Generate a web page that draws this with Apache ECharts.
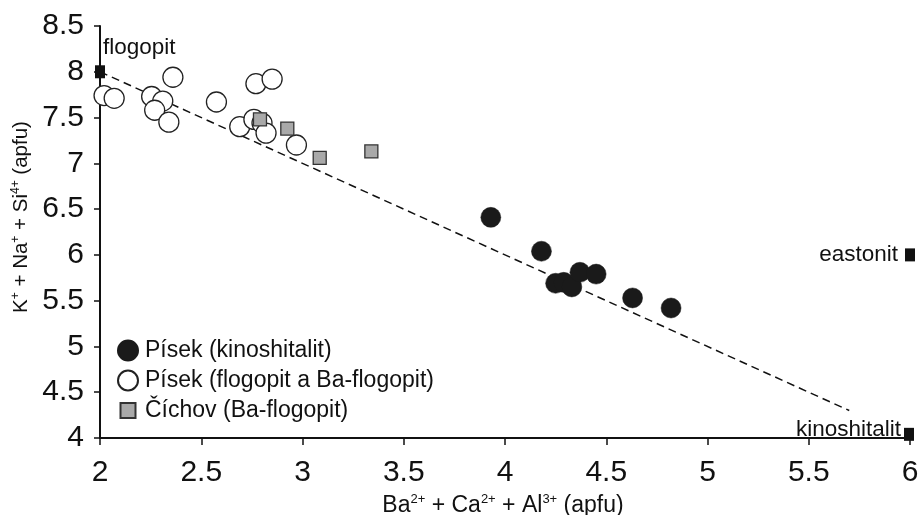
<!DOCTYPE html>
<html>
<head>
<meta charset="utf-8">
<script src="https://cdn.jsdelivr.net/npm/echarts@6/dist/echarts.min.js"></script>
<style>
html,body{margin:0;padding:0;background:#fff;}
#c{width:919px;height:515px;}
</style>
</head>
<body>
<div id="c"></div>
<script>
// ---- data ----
const kinoX = [3.93, 4.18, 4.25, 4.29, 4.33, 4.37, 4.45, 4.63, 4.82];
const kinoY = [6.41, 6.04, 5.69, 5.70, 5.65, 5.81, 5.79, 5.53, 5.42];

const flogX = [2.02, 2.07, 2.255, 2.31, 2.27, 2.34, 2.36, 2.575, 2.69, 2.76, 2.80, 2.82, 2.77, 2.85, 2.97];
const flogY = [7.74, 7.71, 7.73, 7.68, 7.58, 7.45, 7.94, 7.67, 7.40, 7.48, 7.44, 7.33, 7.87, 7.92, 7.20];

const cichX = [2.79, 2.925, 3.085, 3.34];
const cichY = [7.48, 7.38, 7.06, 7.13];

const endNames = ['flogopit', 'eastonit', 'kinoshitalit'];
const endX = [2, 6, 5.995];
const endY = [8, 6, 4.04];

const lineX = [2, 5.7];
const lineY = [8, 4.3];

const seriesNames = ['Písek (kinoshitalit)', 'Písek (flogopit a Ba-flogopit)', 'Číchov (Ba-flogopit)'];

const xMin = 2, xMax = 6, xStep = 0.5;
const yMin = 4, yMax = 8.5, yStep = 0.5;

// ---- build ----
const FONT = 'Liberation Sans, Arial, Helvetica, sans-serif';
const pair = (xs, ys) => xs.map((x, i) => [x, ys[i]]);

const endLabelStyle = {
  flogopit: { position: [8, -17], align: 'left', verticalAlign: 'middle' },
  eastonit: { position: 'left', distance: 7 },
  kinoshitalit: { position: 'left', distance: 3, offset: [0, -5] }
};

const endData = endNames.map((n, i) => ({
  name: n,
  value: [endX[i], endY[i]],
  label: Object.assign({ show: true, formatter: n, fontSize: 22.5, color: '#111', fontFamily: FONT }, endLabelStyle[n])
}));

const chart = echarts.init(document.getElementById('c'), null, { renderer: 'canvas' });

const xNameRich = {
  n: { fontSize: 23, lineHeight: 26, fontFamily: FONT, color: '#111' },
  s: { fontSize: 13, lineHeight: 13, verticalAlign: 'top', fontFamily: FONT, color: '#111' }
};
const yNameRich = {
  n: { fontSize: 20.5, lineHeight: 23, fontFamily: FONT, color: '#111' },
  s: { fontSize: 12, lineHeight: 12, verticalAlign: 'top', fontFamily: FONT, color: '#111' }
};

chart.setOption({
  animation: false,
  backgroundColor: '#fff',
  textStyle: { fontFamily: FONT },
  grid: { left: 100, right: 9, top: 26, bottom: 77, containLabel: false, outerBoundsMode: 'none' },
  legend: {
    orient: 'vertical',
    left: 117,
    top: 339,
    padding: 0,
    itemWidth: 20,
    itemHeight: 20,
    itemGap: 7,
    textStyle: { fontSize: 23, color: '#111', fontFamily: FONT, padding: [0, 0, 0, 2] },
    data: [
      { name: seriesNames[0], icon: 'circle' },
      { name: seriesNames[1], icon: 'circle' },
      { name: seriesNames[2], icon: 'path://M0,0M20,20M2.5,2.5L17.5,2.5L17.5,17.5L2.5,17.5Z' }
    ]
  },
  xAxis: {
    type: 'value',
    min: xMin, max: xMax, interval: xStep,
    name: '{n|Ba}{s|2+}{n| + Ca}{s|2+}{n| + Al}{s|3+}{n| (apfu)}',
    nameLocation: 'middle',
    nameGap: 54,
    nameTextStyle: { rich: xNameRich, padding: [0, 0, 0, -4] },
    axisLine: { onZero: false, lineStyle: { color: '#111', width: 2 } },
    axisTick: { show: true, inside: false, length: 7, lineStyle: { color: '#111', width: 1.5 } },
    axisLabel: { fontSize: 30, color: '#111', margin: 20, fontFamily: FONT, showMaxLabel: true, showMinLabel: true },
    splitLine: { show: false }
  },
  yAxis: {
    type: 'value',
    min: yMin, max: yMax, interval: yStep,
    name: '{n|K}{s|+}{n| + Na}{s|+}{n| + Si}{s|4+}{n| (apfu)}',
    nameLocation: 'middle',
    nameRotate: 90,
    nameGap: 64,
    nameTextStyle: { rich: yNameRich, padding: [0, 0, 0, 30] },
    axisLine: { onZero: false, lineStyle: { color: '#111', width: 2 } },
    axisTick: { show: true, inside: false, length: 6, lineStyle: { color: '#111', width: 1.5 } },
    axisLabel: { fontSize: 30, color: '#111', margin: 16, fontFamily: FONT, showMaxLabel: true, showMinLabel: true },
    splitLine: { show: false }
  },
  series: [
    {
      type: 'line',
      name: 'tie',
      data: pair(lineX, lineY),
      symbol: 'none',
      lineStyle: { color: '#111', width: 1.5, type: [8, 5] },
      z: 1,
      silent: true
    },
    {
      type: 'scatter',
      name: seriesNames[1],
      data: pair(flogX, flogY),
      symbol: 'circle',
      symbolSize: 20,
      itemStyle: { color: '#fff', borderColor: '#222', borderWidth: 1.3, opacity: 1 },
      z: 3
    },
    {
      type: 'scatter',
      name: seriesNames[2],
      data: pair(cichX, cichY),
      symbol: 'rect',
      symbolSize: 13,
      itemStyle: { color: '#a9a9a9', borderColor: '#333', borderWidth: 1.3, opacity: 1 },
      z: 4
    },
    {
      type: 'scatter',
      name: seriesNames[0],
      data: pair(kinoX, kinoY),
      symbol: 'circle',
      symbolSize: 20,
      itemStyle: { color: '#1a1a1a', borderColor: '#1a1a1a', borderWidth: 0.5, opacity: 1 },
      z: 5
    },
    {
      type: 'scatter',
      name: 'endmembers',
      data: endData,
      symbol: 'rect',
      symbolSize: [10, 13],
      clip: false,
      itemStyle: { color: '#111', opacity: 1 },
      z: 6
    }
  ]
});
</script>
</body>
</html>
